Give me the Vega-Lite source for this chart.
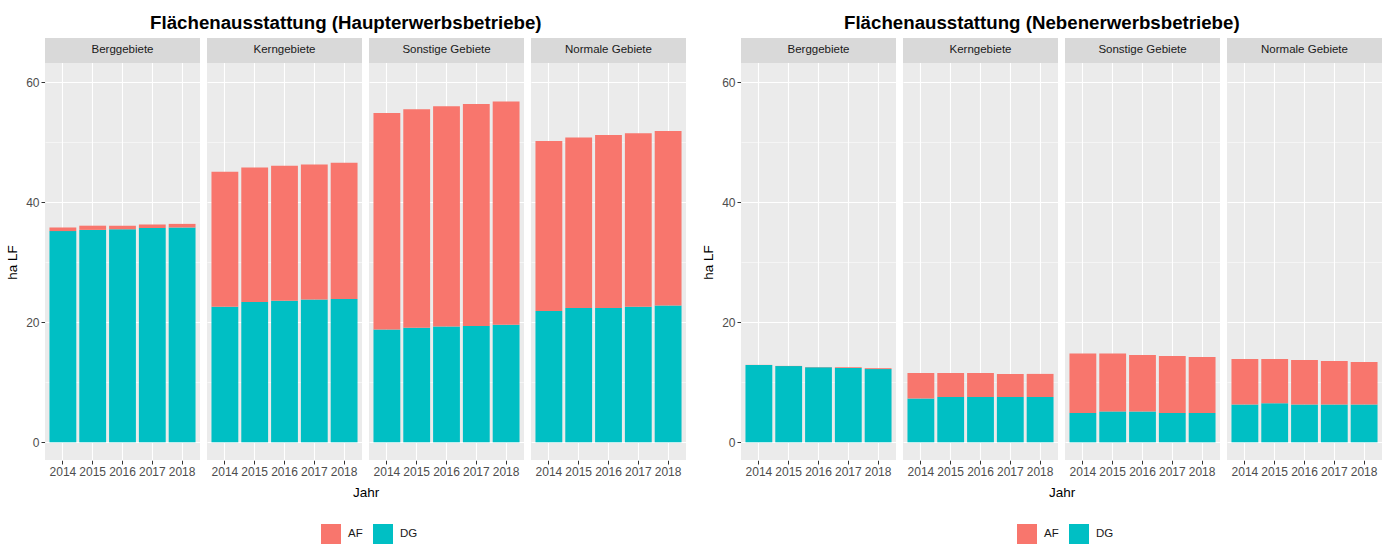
{
  "$schema": "https://vega.github.io/schema/vega-lite/v6.json",
  "background": "white",
  "padding": {"left": 5, "top": 14, "right": 5, "bottom": 5},
  "datasets": {
    "haupt": [
      {"region": "Berggebiete", "Jahr": "2014", "Typ": "DG", "value": 35.2},
      {"region": "Berggebiete", "Jahr": "2015", "Typ": "DG", "value": 35.4},
      {"region": "Berggebiete", "Jahr": "2016", "Typ": "DG", "value": 35.5},
      {"region": "Berggebiete", "Jahr": "2017", "Typ": "DG", "value": 35.7},
      {"region": "Berggebiete", "Jahr": "2018", "Typ": "DG", "value": 35.8},
      {"region": "Berggebiete", "Jahr": "2014", "Typ": "AF", "value": 0.6},
      {"region": "Berggebiete", "Jahr": "2015", "Typ": "AF", "value": 0.7},
      {"region": "Berggebiete", "Jahr": "2016", "Typ": "AF", "value": 0.6},
      {"region": "Berggebiete", "Jahr": "2017", "Typ": "AF", "value": 0.6},
      {"region": "Berggebiete", "Jahr": "2018", "Typ": "AF", "value": 0.6},
      {"region": "Kerngebiete", "Jahr": "2014", "Typ": "DG", "value": 22.6},
      {"region": "Kerngebiete", "Jahr": "2015", "Typ": "DG", "value": 23.4},
      {"region": "Kerngebiete", "Jahr": "2016", "Typ": "DG", "value": 23.6},
      {"region": "Kerngebiete", "Jahr": "2017", "Typ": "DG", "value": 23.8},
      {"region": "Kerngebiete", "Jahr": "2018", "Typ": "DG", "value": 23.9},
      {"region": "Kerngebiete", "Jahr": "2014", "Typ": "AF", "value": 22.5},
      {"region": "Kerngebiete", "Jahr": "2015", "Typ": "AF", "value": 22.4},
      {"region": "Kerngebiete", "Jahr": "2016", "Typ": "AF", "value": 22.5},
      {"region": "Kerngebiete", "Jahr": "2017", "Typ": "AF", "value": 22.5},
      {"region": "Kerngebiete", "Jahr": "2018", "Typ": "AF", "value": 22.7},
      {"region": "Sonstige Gebiete", "Jahr": "2014", "Typ": "DG", "value": 18.8},
      {"region": "Sonstige Gebiete", "Jahr": "2015", "Typ": "DG", "value": 19.1},
      {"region": "Sonstige Gebiete", "Jahr": "2016", "Typ": "DG", "value": 19.3},
      {"region": "Sonstige Gebiete", "Jahr": "2017", "Typ": "DG", "value": 19.4},
      {"region": "Sonstige Gebiete", "Jahr": "2018", "Typ": "DG", "value": 19.6},
      {"region": "Sonstige Gebiete", "Jahr": "2014", "Typ": "AF", "value": 36.1},
      {"region": "Sonstige Gebiete", "Jahr": "2015", "Typ": "AF", "value": 36.4},
      {"region": "Sonstige Gebiete", "Jahr": "2016", "Typ": "AF", "value": 36.7},
      {"region": "Sonstige Gebiete", "Jahr": "2017", "Typ": "AF", "value": 37.0},
      {"region": "Sonstige Gebiete", "Jahr": "2018", "Typ": "AF", "value": 37.2},
      {"region": "Normale Gebiete", "Jahr": "2014", "Typ": "DG", "value": 21.9},
      {"region": "Normale Gebiete", "Jahr": "2015", "Typ": "DG", "value": 22.4},
      {"region": "Normale Gebiete", "Jahr": "2016", "Typ": "DG", "value": 22.4},
      {"region": "Normale Gebiete", "Jahr": "2017", "Typ": "DG", "value": 22.6},
      {"region": "Normale Gebiete", "Jahr": "2018", "Typ": "DG", "value": 22.8},
      {"region": "Normale Gebiete", "Jahr": "2014", "Typ": "AF", "value": 28.3},
      {"region": "Normale Gebiete", "Jahr": "2015", "Typ": "AF", "value": 28.4},
      {"region": "Normale Gebiete", "Jahr": "2016", "Typ": "AF", "value": 28.8},
      {"region": "Normale Gebiete", "Jahr": "2017", "Typ": "AF", "value": 28.9},
      {"region": "Normale Gebiete", "Jahr": "2018", "Typ": "AF", "value": 29.1}
    ],
    "neben": [
      {"region": "Berggebiete", "Jahr": "2014", "Typ": "DG", "value": 12.9},
      {"region": "Berggebiete", "Jahr": "2015", "Typ": "DG", "value": 12.7},
      {"region": "Berggebiete", "Jahr": "2016", "Typ": "DG", "value": 12.5},
      {"region": "Berggebiete", "Jahr": "2017", "Typ": "DG", "value": 12.4},
      {"region": "Berggebiete", "Jahr": "2018", "Typ": "DG", "value": 12.2},
      {"region": "Berggebiete", "Jahr": "2014", "Typ": "AF", "value": 0.02},
      {"region": "Berggebiete", "Jahr": "2015", "Typ": "AF", "value": 0.03},
      {"region": "Berggebiete", "Jahr": "2016", "Typ": "AF", "value": 0.05},
      {"region": "Berggebiete", "Jahr": "2017", "Typ": "AF", "value": 0.1},
      {"region": "Berggebiete", "Jahr": "2018", "Typ": "AF", "value": 0.15},
      {"region": "Kerngebiete", "Jahr": "2014", "Typ": "DG", "value": 7.3},
      {"region": "Kerngebiete", "Jahr": "2015", "Typ": "DG", "value": 7.55},
      {"region": "Kerngebiete", "Jahr": "2016", "Typ": "DG", "value": 7.55},
      {"region": "Kerngebiete", "Jahr": "2017", "Typ": "DG", "value": 7.55},
      {"region": "Kerngebiete", "Jahr": "2018", "Typ": "DG", "value": 7.55},
      {"region": "Kerngebiete", "Jahr": "2014", "Typ": "AF", "value": 4.25},
      {"region": "Kerngebiete", "Jahr": "2015", "Typ": "AF", "value": 4.0},
      {"region": "Kerngebiete", "Jahr": "2016", "Typ": "AF", "value": 4.0},
      {"region": "Kerngebiete", "Jahr": "2017", "Typ": "AF", "value": 3.85},
      {"region": "Kerngebiete", "Jahr": "2018", "Typ": "AF", "value": 3.85},
      {"region": "Sonstige Gebiete", "Jahr": "2014", "Typ": "DG", "value": 4.9},
      {"region": "Sonstige Gebiete", "Jahr": "2015", "Typ": "DG", "value": 5.15},
      {"region": "Sonstige Gebiete", "Jahr": "2016", "Typ": "DG", "value": 5.15},
      {"region": "Sonstige Gebiete", "Jahr": "2017", "Typ": "DG", "value": 4.9},
      {"region": "Sonstige Gebiete", "Jahr": "2018", "Typ": "DG", "value": 4.9},
      {"region": "Sonstige Gebiete", "Jahr": "2014", "Typ": "AF", "value": 9.9},
      {"region": "Sonstige Gebiete", "Jahr": "2015", "Typ": "AF", "value": 9.65},
      {"region": "Sonstige Gebiete", "Jahr": "2016", "Typ": "AF", "value": 9.4},
      {"region": "Sonstige Gebiete", "Jahr": "2017", "Typ": "AF", "value": 9.5},
      {"region": "Sonstige Gebiete", "Jahr": "2018", "Typ": "AF", "value": 9.3},
      {"region": "Normale Gebiete", "Jahr": "2014", "Typ": "DG", "value": 6.3},
      {"region": "Normale Gebiete", "Jahr": "2015", "Typ": "DG", "value": 6.5},
      {"region": "Normale Gebiete", "Jahr": "2016", "Typ": "DG", "value": 6.3},
      {"region": "Normale Gebiete", "Jahr": "2017", "Typ": "DG", "value": 6.3},
      {"region": "Normale Gebiete", "Jahr": "2018", "Typ": "DG", "value": 6.3},
      {"region": "Normale Gebiete", "Jahr": "2014", "Typ": "AF", "value": 7.6},
      {"region": "Normale Gebiete", "Jahr": "2015", "Typ": "AF", "value": 7.4},
      {"region": "Normale Gebiete", "Jahr": "2016", "Typ": "AF", "value": 7.4},
      {"region": "Normale Gebiete", "Jahr": "2017", "Typ": "AF", "value": 7.25},
      {"region": "Normale Gebiete", "Jahr": "2018", "Typ": "AF", "value": 7.1}
    ]
  },
  "config": {
    "font": "Liberation Sans",
    "view": {"fill": "#EBEBEB", "stroke": null},
    "title": {"fontSize": 18.7, "fontWeight": "bold", "color": "black", "anchor": "middle", "offset": 5},
    "header": {"labels": false, "title": "Jahr", "titleOrient": "bottom", "titleFontSize": 13.5, "titleFontWeight": "normal", "titleColor": "black", "titlePadding": -1},
    "axis": {
      "domain": false,
      "tickColor": "#333333",
      "tickSize": 4,
      "labelColor": "#4D4D4D",
      "labelFontSize": 12,
      "labelPadding": 2,
      "gridColor": "white",
      "gridWidth": 1.1,
      "titleFontSize": 13.5,
      "titleFontWeight": "normal",
      "titleColor": "black"
    },
    "legend": {
      "title": null,
      "orient": "none",
      "direction": "horizontal",
      "symbolType": "square",
      "symbolSize": 400,
      "symbolStrokeWidth": 0,
      "labelFontSize": 11.5,
      "labelColor": "#1A1A1A",
      "labelOffset": 7,
      "columnPadding": 10,
      "legendX": 276,
      "legendY": 486
    }
  },
  "spacing": 15,
  "resolve": {"scale": {"color": "independent"}},
  "hconcat": [
    {
      "title": "Flächenausstattung (Haupterwerbsbetriebe)",
      "data": {"name": "haupt"},
      "facet": {"column": {"field": "region", "type": "nominal", "sort": ["Berggebiete", "Kerngebiete", "Sonstige Gebiete", "Normale Gebiete"], "title": "Jahr"}},
      "spacing": 7,
      "spec": {
        "width": 155,
        "height": 422,
        "layer": [
          {
            "mark": {"type": "bar"},
            "encoding": {
              "x": {"field": "Jahr", "type": "ordinal", "title": null, "scale": {"paddingInner": 0.1, "paddingOuter": 0.15}, "axis": {"labelAngle": 0, "bandPosition": 0.5, "grid": true}},
              "y": {"field": "value", "type": "quantitative", "stack": "zero", "title": "ha LF", "scale": {"domain": [-2.95, 67.38], "nice": false, "zero": false},
                "axis": {"values": [0, 10, 20, 30, 40, 50, 60], "grid": true, "titleY": 224, "titlePadding": 6,
                  "labelExpr": "datum.value % 20 === 0 ? datum.label : ''",
                  "tickOpacity": {"condition": {"test": "datum.value % 20 === 0", "value": 1}, "value": 0},
                  "gridWidth": {"condition": {"test": "datum.value % 20 === 0", "value": 1.1}, "value": 0.5}}},
              "color": {"field": "Typ", "type": "nominal", "scale": {"domain": ["AF", "DG"], "range": ["#F8766D", "#00BFC4"]}},
              "order": {"field": "Typ", "sort": "descending"}
            }
          },
          {
            "transform": [{"filter": "datum.Typ === 'DG' && datum.Jahr === '2016'"}],
            "layer": [
              {"mark": {"type": "rect", "color": "#D9D9D9"}, "encoding": {"y": {"datum": 63.22}, "y2": {"datum": 67.38}}},
              {"mark": {"type": "text", "fontSize": 11.5, "color": "#1A1A1A", "baseline": "middle"}, "encoding": {"x": {"field": "Jahr", "type": "ordinal"}, "y": {"datum": 65.3}, "text": {"field": "region"}}}
            ]
          }
        ]
      }
    },
    {
      "title": "Flächenausstattung (Nebenerwerbsbetriebe)",
      "data": {"name": "neben"},
      "facet": {"column": {"field": "region", "type": "nominal", "sort": ["Berggebiete", "Kerngebiete", "Sonstige Gebiete", "Normale Gebiete"], "title": "Jahr"}},
      "spacing": 7,
      "spec": {
        "width": 155,
        "height": 422,
        "layer": [
          {
            "mark": {"type": "bar"},
            "encoding": {
              "x": {"field": "Jahr", "type": "ordinal", "title": null, "scale": {"paddingInner": 0.1, "paddingOuter": 0.15}, "axis": {"labelAngle": 0, "bandPosition": 0.5, "grid": true}},
              "y": {"field": "value", "type": "quantitative", "stack": "zero", "title": "ha LF", "scale": {"domain": [-2.95, 67.38], "nice": false, "zero": false},
                "axis": {"values": [0, 10, 20, 30, 40, 50, 60], "grid": true, "titleY": 224, "titlePadding": 6,
                  "labelExpr": "datum.value % 20 === 0 ? datum.label : ''",
                  "tickOpacity": {"condition": {"test": "datum.value % 20 === 0", "value": 1}, "value": 0},
                  "gridWidth": {"condition": {"test": "datum.value % 20 === 0", "value": 1.1}, "value": 0.5}}},
              "color": {"field": "Typ", "type": "nominal", "scale": {"domain": ["AF", "DG"], "range": ["#F8766D", "#00BFC4"]}},
              "order": {"field": "Typ", "sort": "descending"}
            }
          },
          {
            "transform": [{"filter": "datum.Typ === 'DG' && datum.Jahr === '2016'"}],
            "layer": [
              {"mark": {"type": "rect", "color": "#D9D9D9"}, "encoding": {"y": {"datum": 63.22}, "y2": {"datum": 67.38}}},
              {"mark": {"type": "text", "fontSize": 11.5, "color": "#1A1A1A", "baseline": "middle"}, "encoding": {"x": {"field": "Jahr", "type": "ordinal"}, "y": {"datum": 65.3}, "text": {"field": "region"}}}
            ]
          }
        ]
      }
    }
  ]
}
